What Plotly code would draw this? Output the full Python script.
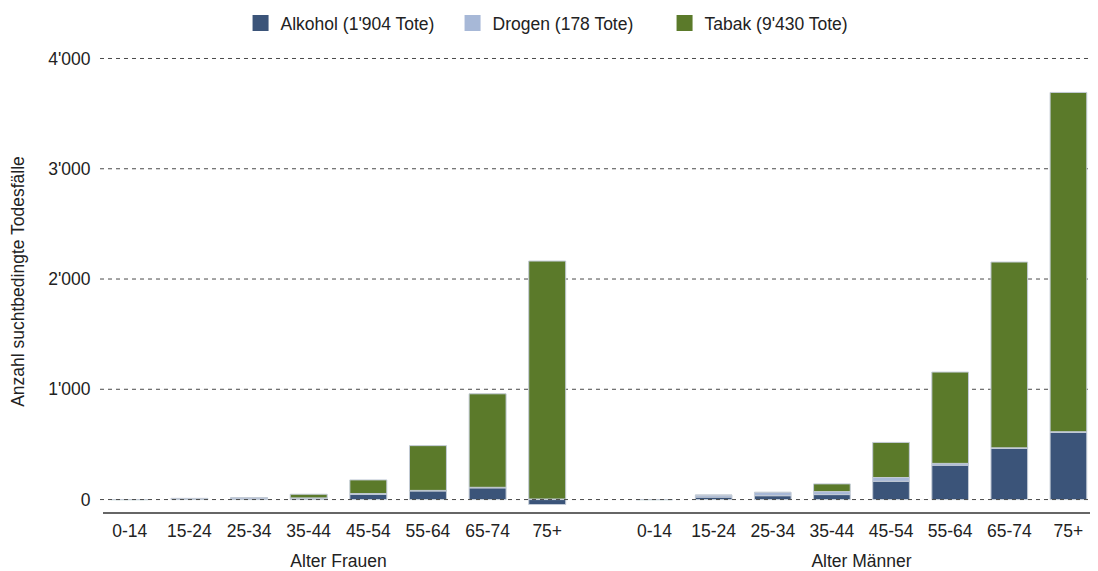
import plotly.graph_objects as go

ages = ["0-14", "15-24", "25-34", "35-44", "45-54", "55-64", "65-74", "75+"]
group_titles = ["Alter Frauen", "Alter Männer"]
series_names = ["Alkohol (1'904 Tote)", "Drogen (178 Tote)", "Tabak (9'430 Tote)"]

alkohol_frauen = [0, 6, 5, 10, 48, 78, 106, -45]
drogen_frauen = [0, 4, 12, 5, 6, 5, 5, 5]
tabak_frauen = [0, 0, 0, 33, 124, 406, 848, 2158]

alkohol_maenner = [0, 22, 35, 45, 166, 312, 464, 610]
drogen_maenner = [0, 18, 30, 27, 34, 16, 5, 5]
tabak_maenner = [0, 0, 0, 70, 318, 828, 1685, 3077]

y_ticks = [0, 1000, 2000, 3000, 4000]
y_title = "Anzahl suchtbedingte Todesfälle"

colors = ["#3b5479", "#a7b8d7", "#5b7a2a"]
FONT = "Liberation Sans, Arial, sans-serif"
FS = 17.5
TXT = "#222222"

fig = go.Figure()
frauen = [alkohol_frauen, drogen_frauen, tabak_frauen]
maenner = [alkohol_maenner, drogen_maenner, tabak_maenner]
for i, name in enumerate(series_names):
    fig.add_trace(go.Bar(
        x=ages, y=frauen[i], name=name, legendgroup=name,
        marker=dict(color=colors[i], line=dict(color="#c3cbd6", width=1)),
        xaxis="x", yaxis="y", showlegend=False))
    fig.add_trace(go.Bar(
        x=ages, y=maenner[i], name=name, legendgroup=name,
        marker=dict(color=colors[i], line=dict(color="#c3cbd6", width=1)),
        xaxis="x2", yaxis="y", showlegend=False))
    # legend-only entry (no visible marks) to get a larger square swatch
    fig.add_trace(go.Scatter(
        x=[None], y=[None], mode="markers", name=name, legendgroup=name,
        marker=dict(symbol="square", size=17, color=colors[i], line=dict(width=0)),
        xaxis="x", yaxis="y", showlegend=True))

shapes = []
for v in y_ticks:
    shapes.append(dict(type="line", xref="paper", x0=0, x1=1, yref="y", y0=v, y1=v,
                       line=dict(color="#4a4a4a", width=1, dash="4px,4px"),
                       layer="above" if v == 0 else "below"))
shapes.append(dict(type="line", xref="paper", x0=0.003, x1=1, yref="paper", y0=0, y1=0,
                   line=dict(color="#333333", width=1.5), layer="above"))

xaxis_common = dict(showgrid=False, showline=False, zeroline=False,
                    ticks="outside", ticklen=2, tickcolor="rgba(0,0,0,0)",
                    tickfont=dict(size=FS, color=TXT, family=FONT),
                    categoryorder="array", categoryarray=ages)

fig.update_layout(
    width=1090, height=563,
    barmode="relative", bargap=0.38,
    separators=".'",
    plot_bgcolor="white", paper_bgcolor="white",
    font=dict(family=FONT, size=FS, color=TXT),
    margin=dict(l=92, r=0, t=42, b=58, autoexpand=False),
    xaxis=dict(domain=[0, 0.478], anchor="y",
               title=dict(text=group_titles[0], standoff=23, font=dict(size=FS, color=TXT, family=FONT)),
               **xaxis_common),
    xaxis2=dict(domain=[0.526, 1], anchor="y",
                title=dict(text=group_titles[1], standoff=23, font=dict(size=FS, color=TXT, family=FONT)),
                **xaxis_common),
    yaxis=dict(range=[-122, 4077], tickvals=y_ticks, tickformat=",", showgrid=False,
               zeroline=False, showline=False, ticks="outside", ticklen=5,
               tickcolor="rgba(0,0,0,0)",
               tickfont=dict(size=FS, color=TXT, family=FONT),
               title=dict(text=y_title, font=dict(size=FS, color=TXT, family=FONT), standoff=19)),
    legend=dict(orientation="h", xref="container", yref="container", x=0.5051, xanchor="center",
                y=0.973, yanchor="middle", font=dict(size=FS, color=TXT, family=FONT),
                traceorder="normal", itemsizing="trace", entrywidth=167, entrywidthmode="pixels"),
    shapes=shapes,
)

fig.write_html("out.html")
